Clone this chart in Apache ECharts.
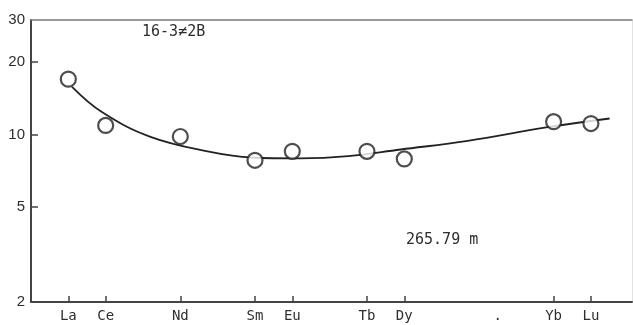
<!DOCTYPE html>
<html>
<head>
<meta charset="utf-8">
<script src="https://cdn.jsdelivr.net/npm/echarts@6/dist/echarts.min.js"></script>
<style>
  html, body { margin: 0; padding: 0; background: #fff; }
  #chart { width: 633px; height: 325px; }
</style>
</head>
<body>
<div id="chart"></div>
<script>
// Rare-earth elements on the x axis, placed by atomic number
const elements = ['La', 'Ce', 'Nd', 'Sm', 'Eu', 'Tb', 'Dy', 'Yb', 'Lu'];
const atomicNumbers = [57, 58, 60, 62, 63, 65, 66, 70, 71];
// Chondrite-normalized abundances
const abundances = [17.0, 10.9, 9.8, 7.8, 8.5, 8.5, 7.9, 11.3, 11.1];
// Hand-fitted pattern curve: [atomic number, value]
const curveX = [57.1, 57.9, 59.2, 60.8, 61.9, 63.2, 64.5, 65.9, 67.7, 69.8, 71.5];
const curveY = [15.8, 12.4, 9.77, 8.46, 8.01, 7.94, 8.11, 8.65, 9.40, 10.69, 11.65];
// Tick labels
const yTicks = [2, 5, 10, 20, 30];
const dotPosition = 68.5;
const sampleLabel = '16-3\u22602B';
const depthLabel = '265.79 m';

const symbolMap = {};
atomicNumbers.forEach((n, i) => { symbolMap[n] = elements[i]; });
symbolMap[dotPosition] = '.';

const chart = echarts.init(document.getElementById('chart'), null, { renderer: 'canvas' });

const textColor = '#2e2e2e';

const option = {
  animation: false,
  backgroundColor: '#ffffff',
  grid: { left: 31, right: 1, top: 20, bottom: 23 },
  xAxis: [
    {
      type: 'value',
      min: 56,
      max: 72.1,
      splitLine: { show: false },
      axisLine: { show: true, onZero: false, lineStyle: { color: '#444', width: 2 } },
      axisTick: {
        show: true, inside: true, length: 6,
        customValues: atomicNumbers,
        lineStyle: { color: '#444', width: 1.5 }
      },
      axisLabel: {
        customValues: atomicNumbers.concat([dotPosition]),
        formatter: v => symbolMap[v] || '',
        margin: 7,
        color: textColor,
        fontFamily: 'DejaVu Sans Mono',
        fontSize: 14
      }
    },
    {
      // top frame line
      type: 'value',
      position: 'top',
      min: 56,
      max: 72.1,
      splitLine: { show: false },
      axisTick: { show: false },
      axisLabel: { show: false },
      axisLine: { show: true, onZero: false, lineStyle: { color: '#7a7a7a', width: 1.5 } }
    }
  ],
  yAxis: [
    {
      type: 'log',
      logBase: 10,
      min: 2,
      max: 30,
      splitLine: { show: false },
      axisLine: { show: true, lineStyle: { color: '#444', width: 2 } },
      axisTick: {
        show: true, inside: true, length: 7,
        customValues: [5, 10, 20],
        lineStyle: { color: '#444', width: 1.5 }
      },
      axisLabel: {
        customValues: yTicks,
        formatter: v => String(Math.round(v)),
        margin: 6,
        color: textColor,
        fontFamily: 'Liberation Sans',
        fontSize: 15
      }
    },
    {
      // faint right frame line
      type: 'log',
      logBase: 10,
      position: 'right',
      min: 2,
      max: 30,
      splitLine: { show: false },
      axisTick: { show: false },
      axisLabel: { show: false },
      axisLine: { show: true, lineStyle: { color: '#e2e2e2', width: 1 } }
    }
  ],
  series: [
    {
      type: 'line',
      data: curveX.map((x, i) => [x, curveY[i]]),
      smooth: 0.4,
      showSymbol: false,
      silent: true,
      z: 2,
      lineStyle: { color: '#222', width: 1.8 }
    },
    {
      type: 'scatter',
      data: atomicNumbers.map((x, i) => [x, abundances[i]]),
      symbol: 'circle',
      symbolSize: 15,
      z: 3,
      itemStyle: { color: '#ffffff', borderColor: '#222', borderWidth: 2.2 }
    }
  ],
  graphic: [
    {
      type: 'text', left: 142, top: 25,
      style: { text: sampleLabel, fill: textColor, font: '15px "DejaVu Sans Mono"' }
    },
    {
      type: 'text', left: 406, top: 233,
      style: { text: depthLabel, fill: textColor, font: '15px "DejaVu Sans Mono"' }
    }
  ]
};

chart.setOption(option);
</script>
</body>
</html>
